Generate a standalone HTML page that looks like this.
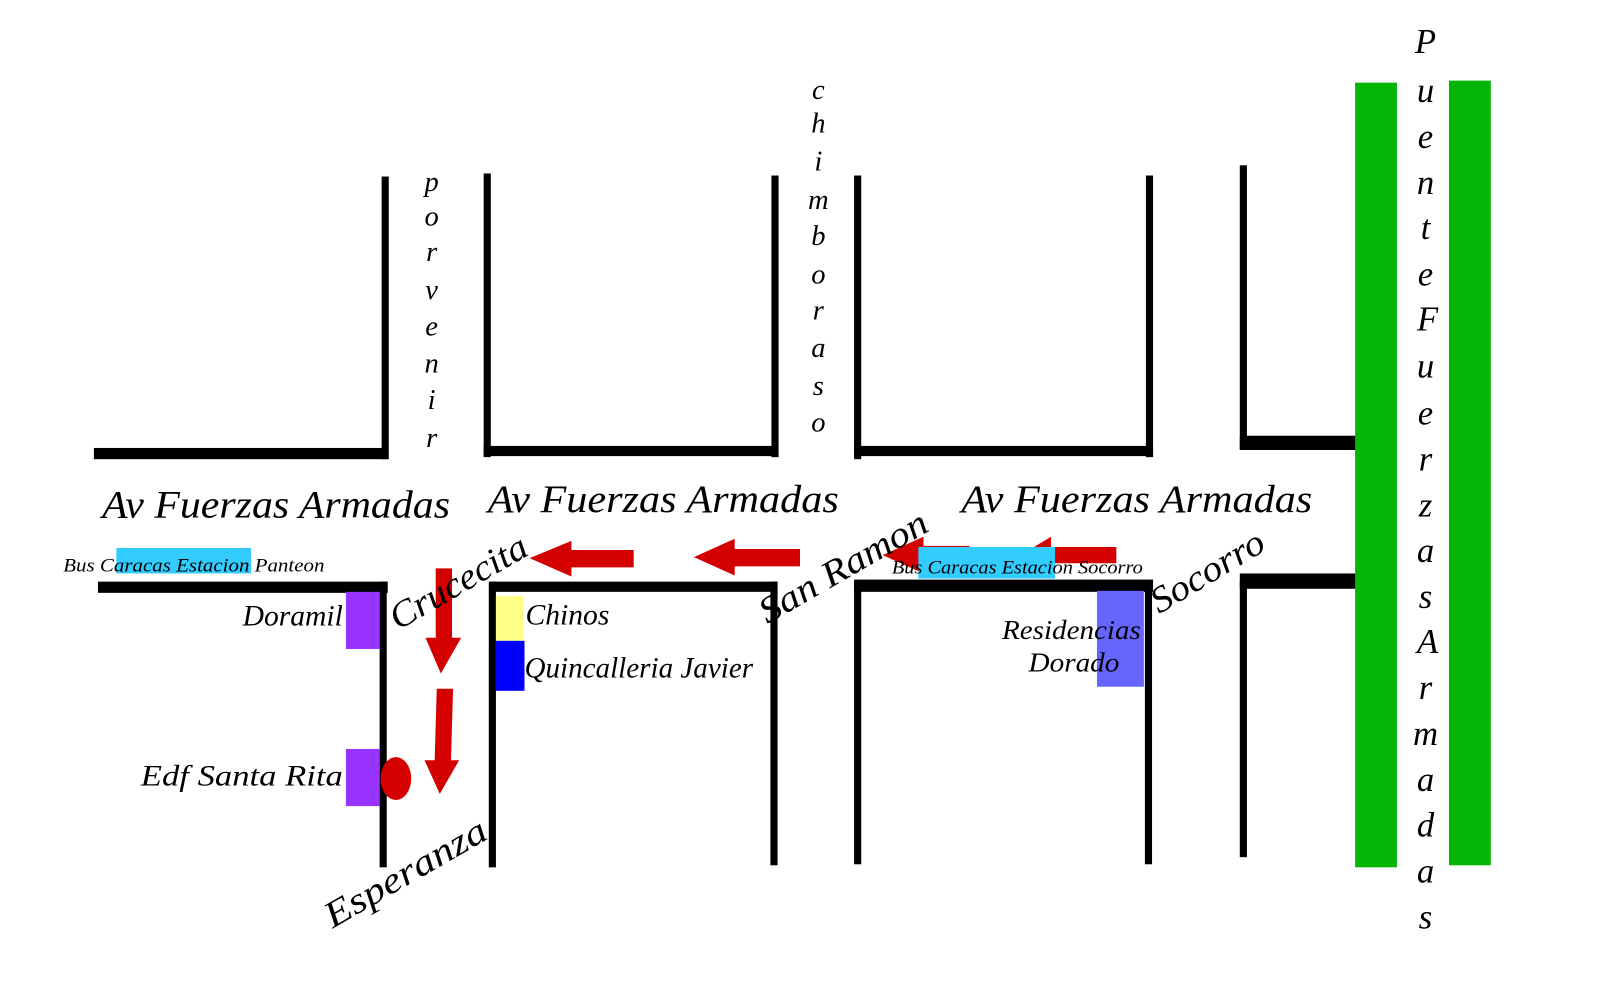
<!DOCTYPE html>
<html><head><meta charset="utf-8"><style>
html,body{margin:0;padding:0;background:#fff;}
svg{display:block;}
text{font-family:"Liberation Serif",serif;font-style:italic;fill:#000;}
</style></head><body>
<svg width="1600" height="1000" viewBox="0 0 1568 980" preserveAspectRatio="none" xmlns="http://www.w3.org/2000/svg">
<g fill="#000">
<rect x="92" y="439" width="288" height="11"/><rect x="374" y="173" width="7" height="277"/>
<rect x="474" y="170" width="7" height="278"/><rect x="474" y="437" width="288" height="10"/><rect x="756" y="172" width="7" height="276"/>
<rect x="837" y="172" width="7" height="278"/><rect x="837" y="437" width="293" height="10"/><rect x="1123" y="172" width="7" height="276"/>
<rect x="1215" y="162" width="7" height="278"/><rect x="1215" y="427" width="115" height="14"/>
<rect x="96" y="570" width="284" height="11"/><rect x="372" y="570" width="7" height="280"/>
<rect x="480" y="570" width="282" height="10"/><rect x="479" y="570" width="7" height="280"/><rect x="755" y="570" width="7" height="278"/>
<rect x="837" y="568" width="293" height="12"/><rect x="837" y="570" width="7" height="277"/><rect x="1122" y="570" width="7" height="277"/>
<rect x="1215" y="562" width="115" height="15"/><rect x="1215" y="570" width="7" height="270"/>
</g>
<rect x="1328" y="81" width="41" height="769" fill="#05b505"/>
<rect x="1420" y="79" width="41" height="769" fill="#05b505"/>
<g fill="#d40000">
<polygon points="519,547 560,530 560,539 621,539 621,556 560,556 560,565"/>
<polygon points="680,546 720,528 720,538 784,538 784,555 720,555 720,564"/>
<polygon points="865,544 905,526 905,535 950,535 950,552 905,552 905,562"/>
<polygon points="1000,544 1030,526 1030,536 1094,536 1094,552 1030,552 1030,562"/>
<polygon points="427,557 443,557 443,625 452,625 432,660 417,625 427,625"/>
<polygon points="428,675 444,675 442,745 450,745 431,778 416,745 426,745"/>
<ellipse cx="388" cy="763" rx="15" ry="21"/>
</g>
<rect x="114" y="537" width="132" height="25" fill="#33ccff"/>
<rect x="900" y="536" width="134" height="31" fill="#33ccff"/>
<rect x="339" y="580" width="33" height="56" fill="#9933ff"/>
<rect x="339" y="734" width="33" height="56" fill="#9933ff"/>
<rect x="486" y="584" width="27" height="44" fill="#ffff88"/>
<rect x="486" y="628" width="28" height="49" fill="#0000ff"/>
<rect x="1075" y="579" width="46" height="94" fill="#6666ff"/>
<g font-size="38">
<text x="100" y="507" textLength="341" lengthAdjust="spacingAndGlyphs">Av Fuerzas Armadas</text>
<text x="478" y="502" textLength="344" lengthAdjust="spacingAndGlyphs">Av Fuerzas Armadas</text>
<text x="942" y="502" textLength="344" lengthAdjust="spacingAndGlyphs">Av Fuerzas Armadas</text>
</g>
<g font-size="19">
<text x="62" y="560" textLength="256" lengthAdjust="spacingAndGlyphs">Bus Caracas Estacion Panteon</text>
<text x="874" y="562" textLength="246" lengthAdjust="spacingAndGlyphs">Bus Caracas Estacion Socorro</text>
</g>
<g font-size="29">
<text x="336" y="613" text-anchor="end">Doramil</text>
<text x="138" y="770" textLength="198" lengthAdjust="spacingAndGlyphs">Edf Santa Rita</text>
<text x="515" y="612">Chinos</text>
<text x="514" y="664" textLength="224" lengthAdjust="spacingAndGlyphs">Quincalleria Javier</text>
</g>
<g font-size="27">
<text x="982" y="626" textLength="136" lengthAdjust="spacingAndGlyphs">Residencias</text>
<text x="1008" y="658" textLength="89" lengthAdjust="spacingAndGlyphs">Dorado</text>
</g>
<g font-size="36">
<text transform="translate(390,618) rotate(-30)" textLength="150" lengthAdjust="spacingAndGlyphs">Crucecita</text>
<text transform="translate(752,612) rotate(-30)" textLength="185" lengthAdjust="spacingAndGlyphs">San Ramon</text>
<text transform="translate(1136,602) rotate(-31)" textLength="124" lengthAdjust="spacingAndGlyphs">Socorro</text>
<text transform="translate(326,910) rotate(-30)" textLength="178" lengthAdjust="spacingAndGlyphs">Esperanza</text>
</g>
<g font-size="28" text-anchor="middle">
<text x="423" y="187">p</text><text x="423" y="221">o</text><text x="423" y="256">r</text><text x="423" y="293">v</text><text x="423" y="329">e</text><text x="423" y="365">n</text><text x="423" y="401">i</text><text x="423" y="438">r</text>
<text x="802" y="97">c</text><text x="802" y="130">h</text><text x="802" y="167">i</text><text x="802" y="205">m</text><text x="802" y="240">b</text><text x="802" y="278">o</text><text x="802" y="313">r</text><text x="802" y="350">a</text><text x="802" y="387">s</text><text x="802" y="423">o</text>
</g>
<g font-size="34" text-anchor="middle">
<text x="1397" y="52">P</text><text x="1397" y="100">u</text><text x="1397" y="145">e</text><text x="1397" y="190">n</text><text x="1397" y="234">t</text><text x="1397" y="280">e</text><text x="1399" y="324">F</text><text x="1397" y="370">u</text><text x="1397" y="416">e</text><text x="1397" y="461">r</text><text x="1397" y="506">z</text><text x="1397" y="551">a</text><text x="1397" y="596">s</text><text x="1399" y="640">A</text><text x="1397" y="685">r</text><text x="1397" y="730">m</text><text x="1397" y="775">a</text><text x="1397" y="820">d</text><text x="1397" y="865">a</text><text x="1397" y="910">s</text>
</g>
</svg>
</body></html>
